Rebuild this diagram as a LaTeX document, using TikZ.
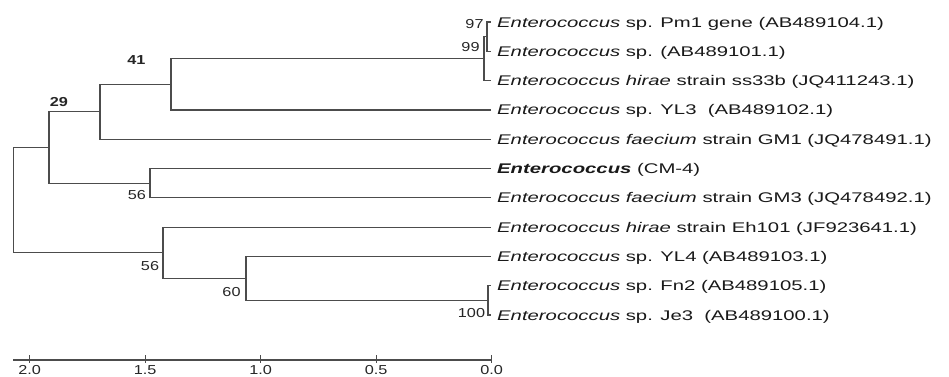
\documentclass[tikz,border=0pt]{standalone}
\usepackage{fontspec}
\setmainfont{Liberation Sans}
\newcommand{\widetxt}[1]{\scalebox{1.45}[1]{#1}}
\newcommand{\widenum}[1]{\scalebox{1.25}[1]{#1}}
\newcommand{\ent}{\textit{Enterococcus}}
\begin{document}
\begin{tikzpicture}[x=1pt,y=-1pt,
  branch/.style={draw=black!70, line width=1.2pt},
  lab/.style={anchor=base west, inner sep=0pt, text=black!90, font=\fontsize{14}{16}\selectfont},
  boot/.style={anchor=center, inner sep=0pt, text=black!85, font=\fontsize{13}{15}\selectfont},
  axlab/.style={anchor=center, inner sep=0pt, text=black!85, font=\fontsize{13}{15}\selectfont}]
\useasboundingbox (0,0) rectangle (949,376);
% leaves
\coordinate (l1) at (491,22);
\coordinate (l2) at (491,51.3);
\coordinate (l3) at (491,80.6);
\coordinate (l4) at (491,109.9);
\coordinate (l5) at (491,139.2);
\coordinate (l6) at (491,168.5);
\coordinate (l7) at (491,197.8);
\coordinate (l8) at (491,227.1);
\coordinate (l9) at (491,256.4);
\coordinate (l10) at (491,285.7);
\coordinate (l11) at (491,315);
% internal nodes
\coordinate (n97) at (487,36.6);
\coordinate (n99) at (484,58.6);
\coordinate (n41) at (171,84.3);
\coordinate (nA) at (100,111.7);
\coordinate (nU) at (150,183.1);
\coordinate (n29) at (49,147.4);
\coordinate (n100) at (488,300.4);
\coordinate (n60) at (246,278.4);
\coordinate (nL) at (163,252.7);
\coordinate (root) at (13.3,200);
% branches
\draw[branch] (n97) |- (l1);
\draw[branch] (n97) |- (l2);
\draw[branch] (n99) |- (n97);
\draw[branch] (n99) |- (l3);
\draw[branch] (n41) |- (n99);
\draw[branch] (n41) |- (l4);
\draw[branch] (nA) |- (n41);
\draw[branch] (nA) |- (l5);
\draw[branch] (nU) |- (l6);
\draw[branch] (nU) |- (l7);
\draw[branch] (n29) |- (nA);
\draw[branch] (n29) |- (nU);
\draw[branch] (n100) |- (l10);
\draw[branch] (n100) |- (l11);
\draw[branch] (n60) |- (l9);
\draw[branch] (n60) |- (n100);
\draw[branch] (nL) |- (l8);
\draw[branch] (nL) |- (n60);
\draw[branch] (root) |- (n29);
\draw[branch] (root) |- (nL);
% leaf labels
\node[lab] (t1) at (497,27) {\widetxt{\ent{} sp. Pm1 gene (AB489104.1)}};
\node[lab] (t2) at (497,56.3) {\widetxt{\ent{} sp. (AB489101.1)}};
\node[lab] (t3) at (497,85.6) {\widetxt{\ent{} \textit{hirae} strain ss33b (JQ411243.1)}};
\node[lab] (t4) at (497,114.9) {\widetxt{\ent{} sp. YL3\ \ (AB489102.1)}};
\node[lab] (t5) at (497,144.2) {\widetxt{\ent{} \textit{faecium} strain GM1 (JQ478491.1)}};
\node[lab] (t6) at (497,173.5) {\widetxt{\textbf{\textit{Enterococcus}} (CM-4)}};
\node[lab] (t7) at (497,202.8) {\widetxt{\ent{} \textit{faecium} strain GM3 (JQ478492.1)}};
\node[lab] (t8) at (497,232.1) {\widetxt{\ent{} \textit{hirae} strain Eh101 (JF923641.1)}};
\node[lab] (t9) at (497,261.4) {\widetxt{\ent{} sp. YL4 (AB489103.1)}};
\node[lab] (t10) at (497,290.7) {\widetxt{\ent{} sp. Fn2 (AB489105.1)}};
\node[lab] (t11) at (497,320) {\widetxt{\ent{} sp. Je3\ \ (AB489100.1)}};
% bootstrap values
\node[boot] (b97) at (474.5,24.5) {\widenum{97}};
\node[boot] (b99) at (470.5,47) {\widenum{99}};
\node[boot] (b41) at (136.5,60.5) {\widenum{\textbf{41}}};
\node[boot] (b29) at (59,102) {\widenum{\textbf{29}}};
\node[boot] (b56u) at (137,195) {\widenum{56}};
\node[boot] (b56l) at (150,266) {\widenum{56}};
\node[boot] (b60) at (231.5,292) {\widenum{60}};
\node[boot] (b100) at (471.5,313) {\widenum{100}};
% scale axis
\coordinate (ax0) at (13,360);
\coordinate (ax1) at (492,360);
\draw[branch] (ax0) -- (ax1);
\foreach \v/\xx in {2.0/29.7, 1.5/145.2, 1.0/260.7, 0.5/376.2, 0.0/491.7}{
  \draw[branch] (\xx,355) -- (\xx,363);
  \node[axlab] at (\xx,370) {\widenum{\v}};
}
\end{tikzpicture}
\end{document}
